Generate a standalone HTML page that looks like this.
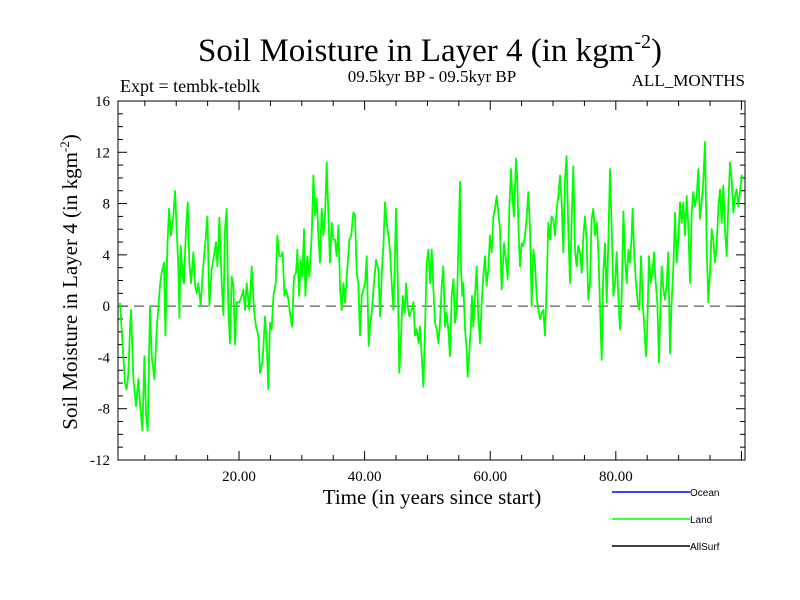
<!DOCTYPE html>
<html><head><meta charset="utf-8"><style>
body{margin:0;background:#fff;}
svg{display:block;font-family:"Liberation Serif",serif;}
</style></head><body>
<svg id="chart" width="800" height="600" viewBox="0 0 800 600">
<rect width="800" height="600" fill="#fff"/>
<text x="430" y="61" font-size="33" text-anchor="middle">Soil Moisture in Layer 4 (in kgm<tspan font-size="20" dy="-13">-2</tspan><tspan dy="13">)</tspan></text>
<text x="120" y="92" font-size="18">Expt = tembk-teblk</text>
<text x="432" y="82" font-size="17" text-anchor="middle">09.5kyr BP - 09.5kyr BP</text>
<text x="745" y="86" font-size="17" text-anchor="end">ALL_MONTHS</text>
<text x="432" y="504" font-size="21" text-anchor="middle">Time (in years since start)</text>
<text transform="translate(77,282) rotate(-90)" font-size="21" text-anchor="middle">Soil Moisture in Layer 4 (in kgm<tspan font-size="13" dy="-8">-2</tspan><tspan dy="8">)</tspan></text>
<g id="ticks"></g>
<g id="series"></g>
<rect x="118" y="101" width="627" height="359" fill="none" stroke="#000" stroke-width="1"/>
<g font-family="Liberation Sans, sans-serif" font-size="10">
<line x1="612" y1="492" x2="690" y2="492" stroke="#0000ff" stroke-width="1.5"/>
<text x="690" y="496">Ocean</text>
<line x1="612" y1="519" x2="690" y2="519" stroke="#00ff00" stroke-width="1.5"/>
<text x="690" y="523">Land</text>
<line x1="612" y1="546" x2="690" y2="546" stroke="#000" stroke-width="1.5"/>
<text x="690" y="550">AllSurf</text>
</g>
</svg>
<script>
const years = [1.05,1.32,1.58,1.85,2.11,2.38,2.64,2.8,3.18,3.6,3.97,4.24,4.61,4.93,5.19,5.46,5.83,6.09,6.52,6.89,7.42,7.69,8.06,8.27,8.59,8.85,9.17,9.54,9.81,10.08,10.34,10.5,10.71,11.03,11.24,11.56,11.83,12.09,12.36,12.73,13.0,13.26,13.53,13.9,14.22,14.59,14.96,15.28,15.65,16.02,16.34,16.55,16.87,17.24,17.51,17.77,18.04,18.3,18.57,18.83,19.1,19.36,19.63,20.05,20.43,20.69,20.96,21.22,21.65,22.02,22.39,22.71,23.08,23.34,23.77,24.14,24.41,24.67,24.94,25.2,25.47,25.84,26.1,26.42,
26.69,26.96,27.22,27.49,27.86,28.12,28.44,28.76,29.08,29.29,29.56,29.82,30.09,30.35,30.57,30.88,31.2,31.57,31.84,32.1,32.37,32.64,32.9,33.17,33.43,33.7,33.96,34.23,34.49,34.76,35.02,35.29,35.56,35.82,36.09,36.35,36.62,36.88,37.25,37.57,37.84,38.21,38.47,38.74,39.0,39.27,39.54,39.8,40.07,40.33,40.65,40.86,41.13,41.5,41.82,42.19,42.46,42.77,42.99,43.25,43.52,43.78,44.05,44.31,44.58,44.84,45.0,45.27,45.53,45.75,46.07,46.38,46.6,46.86,47.13,47.5,47.76,48.03,48.3,48.61,48.82,49.09,49.36,49.62,49.89,50.15,50.42,50.68,50.95,51.21,51.48,51.75,52.01,
52.27,52.53,52.8,53.06,53.33,53.6,53.86,54.13,54.39,54.66,54.92,55.19,55.35,55.56,55.72,55.98,56.25,56.41,56.67,56.89,57.1,57.31,57.58,57.84,58.11,58.37,58.64,58.9,59.17,59.43,59.7,59.96,60.23,60.5,60.76,61.03,61.29,61.56,61.82,61.98,62.19,62.51,62.78,63.04,63.31,63.52,63.79,64.1,64.32,64.53,64.74,65.01,65.27,65.54,65.8,66.07,66.33,66.6,66.86,67.13,67.39,67.66,67.93,68.19,68.46,68.72,68.99,69.25,69.52,69.78,70.05,70.32,70.58,70.85,71.11,71.38,71.64,71.91,72.17,72.44,72.7,72.97,73.23,73.5,73.77,74.03,74.3,74.56,74.83,75.09,75.36,75.62,75.89,76.15,76.42,76.68,76.95,77.21,77.48,
77.75,78.01,78.28,78.54,78.81,79.07,79.34,79.61,79.87,80.14,80.4,80.67,80.93,81.2,81.46,81.73,82.0,82.26,82.52,82.68,82.95,83.21,83.48,83.75,84.01,84.28,84.54,84.81,85.02,85.29,85.55,85.82,86.08,86.35,86.61,86.88,87.14,87.3,87.57,87.83,88.1,88.36,88.63,88.89,89.16,89.42,89.69,89.96,90.22,90.49,90.75,91.02,91.28,91.55,91.81,92.08,92.34,92.61,92.88,93.14,93.41,93.67,93.94,94.2,94.47,94.73,95.0,95.26,95.53,95.79,96.06,96.33,96.59,96.86,97.12,97.39,97.65,97.92,98.18,98.45,98.71,98.98,99.24,99.51,99.77,100.04,100.2];
const landValues = [0.26,-1.8,-3.9,-6.0,-6.5,-5.2,-1.8,-0.3,-5.7,-7.8,-5.7,-7.6,-9.7,-3.9,-8.4,-9.7,0,-3.9,-5.7,-1.8,1.6,2.6,3.4,-2.3,4.7,7.6,5.5,7.0,9.0,6.0,2.9,-0.9,4.7,2.3,1.8,6.0,8.1,3.4,1.8,4.2,1.6,1.0,1.8,0,2.6,4.7,7.0,0,2.9,3.9,5.0,3.1,6.9,1.8,-0.7,6.0,7.6,-0.3,-2.9,2.3,1.6,-3.0,0.3,0.3,0.8,1.3,-0.3,1.8,-0.3,3.1,-0.3,-1.6,-2.3,-5.2,-4.2,-0.8,-2.9,-6.5,-1.3,-1.8,0.8,1.8,5.5,3.9,
3.9,4.2,0.8,1.3,0.5,-0.5,-1.6,2.3,2.6,4.4,0.8,3.6,2.3,6.0,0.8,3.9,2.3,5.5,10.2,7.1,8.4,5.5,3.4,7.6,5.5,7.3,11.2,7.1,3.4,6.5,5.2,5.2,3.9,6.3,1.3,-0.3,1.8,0.3,2.9,5.2,5.5,7.3,7.1,2.6,1.8,-2.3,0.8,1.3,1.8,3.9,-3.1,-1.6,-0.5,1.8,3.6,2.9,-0.8,2.9,4.7,8.1,6.5,5.5,4.2,1.8,-0.3,3.9,7.6,2.3,-5.2,-2.9,0.8,-0.5,1.8,0,-0.8,-0.3,0.3,-2.3,-1.8,-2.9,-1.6,-3.9,-6.3,-1.8,3.4,4.4,1.8,4.4,1.3,-1.3,-1.8,-2.9,-1.3,
1.6,3.1,-1.6,-0.5,-1.8,-3.9,0.8,2.1,-1.3,-0.3,4.4,9.7,2.9,0.8,1.8,-1.8,-3.4,-5.5,-3.6,-1.8,0.8,-1.6,0.8,3.1,-0.8,-2.9,0.3,2.3,3.9,1.6,2.9,5.5,4.2,7.0,7.6,8.6,7.3,6.0,1.3,2.9,4.9,3.6,2.1,7.6,10.7,8.6,7.0,11.5,9.7,5.5,3.1,4.9,4.7,5.5,6.8,8.9,6.0,0,4.4,3.4,0.8,-0.3,-1.0,-0.5,-0.3,-2.3,1.8,6.5,5.2,7.0,6.8,5.5,7.6,8.6,10.2,8.1,4.2,9.9,11.7,6.0,1.8,6.8,10.9,4.4,3.1,4.7,4.2,2.6,5.5,7.0,5.0,0.5,1.8,6.8,7.6,5.5,6.5,4.4,0,
-4.2,2.6,4.9,0.3,4.9,10.7,6.0,0.8,1.8,4.2,0.8,-1.8,0.8,7.4,3.9,1.8,4.4,3.4,5.5,7.6,3.9,1.8,0.3,-0.3,3.9,0.3,-1.6,-3.9,-1.6,3.9,1.8,2.6,4.2,1.8,0.3,-4.4,0.8,3.1,1.3,0.5,1.8,4.2,-3.7,0.3,2.9,7.3,3.4,5.2,8.1,6.5,8.1,5.5,8.6,6.0,1.8,7.3,8.9,7.8,8.6,10.7,6.8,8.1,9.9,12.8,4.7,0.3,2.6,6.0,5.2,3.4,4.7,7.8,9.1,6.5,9.4,6.0,3.9,8.1,11.2,9.9,7.3,8.6,9.1,7.8,8.9,10.2,9.9];
const yTickValues = [-12,-8,-4,0,4,8,12,16];
const yTickLabels = ["-12","-8","-4","0","4","8","12","16"];
const xTickValues = [20,40,60,80];
const xTickLabels = ["20.00","40.00","60.00","80.00"];

const NS = "http://www.w3.org/2000/svg";
const L = 118, R = 745, T = 101, B = 460;
const xMin = 0.73, xMax = 100.57, yMin = -12, yMax = 16;
function xScale(t){ return L + (t - xMin) / (xMax - xMin) * (R - L); }
function yScale(v){ return B - (v - yMin) / (yMax - yMin) * (B - T); }
function mk(tag, attrs){ const e = document.createElementNS(NS, tag); for (const k in attrs) e.setAttribute(k, attrs[k]); return e; }

const tg = document.getElementById('ticks');
for (let v = yMin; v <= yMax; v++) {
  const y = yScale(v), len = (v % 4 === 0) ? 9 : 5;
  const a = mk('line', {x1: L, x2: L + len, y1: y, y2: y, stroke: '#000'});
  
  
  tg.appendChild(a);
  const b = mk('line', {x1: R, x2: R - len, y1: y, y2: y, stroke: '#000'});
  
  
  tg.appendChild(b);
}
yTickValues.forEach((v, i) => {
  const t = mk('text', {x: 110, y: yScale(v) + 5, 'font-size': 15, 'text-anchor': 'end'});
  t.textContent = yTickLabels[i];
  
  
  tg.appendChild(t);
});
for (let t = 5; t < xMax; t += 5) {
  const x = xScale(t), len = (t % 20 === 0) ? 9 : 5;
  const a = mk('line', {x1: x, x2: x, y1: B, y2: B - len, stroke: '#000'});
  
  
  tg.appendChild(a);
  const b = mk('line', {x1: x, x2: x, y1: T, y2: T + len, stroke: '#000'});
  
  
  tg.appendChild(b);
}
xTickValues.forEach((v, i) => {
  const t = mk('text', {x: xScale(v), y: 481, 'font-size': 15, 'text-anchor': 'middle'});
  t.textContent = xTickLabels[i];
  
  
  tg.appendChild(t);
});

const sg = document.getElementById('series');
const zero = mk('line', {x1: L, x2: R, y1: yScale(0), y2: yScale(0), stroke: '#333', 'stroke-dasharray': '10,6', 'stroke-width': 1});


sg.appendChild(zero);
const pts = years.map((t, i) => xScale(t).toFixed(1) + ',' + yScale(landValues[i]).toFixed(1)).join(' ');
const line = mk('polyline', {points: pts, fill: 'none', stroke: '#00ff00', 'stroke-width': 1.8, 'stroke-linejoin': 'round'});


sg.appendChild(line);
</script>
</body></html>
